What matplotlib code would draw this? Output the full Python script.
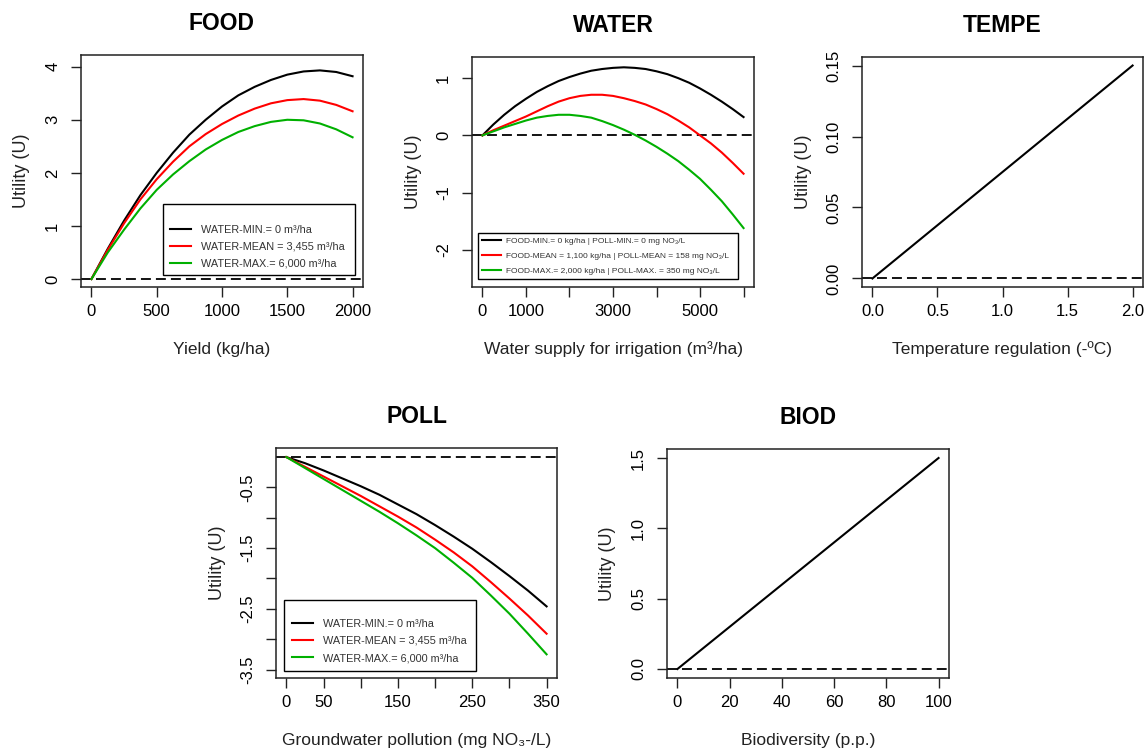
import matplotlib
matplotlib.use("Agg")
import matplotlib.pyplot as plt

plt.rcParams['font.family'] = ['Liberation Sans', 'DejaVu Sans']

# ---- FOOD: utility vs yield, three water levels ----
food_x = [0, 125, 250, 375, 500, 625, 750, 875, 1000, 1125, 1250, 1375, 1500, 1625, 1750, 1875, 2000]
food_wmin = [0, 0.57, 1.10, 1.58, 2.00, 2.38, 2.72, 3.00, 3.25, 3.46, 3.62, 3.75, 3.85, 3.91, 3.93, 3.90, 3.82]
food_wmean = [0, 0.55, 1.05, 1.50, 1.88, 2.21, 2.50, 2.73, 2.92, 3.08, 3.21, 3.31, 3.37, 3.39, 3.36, 3.28, 3.16]
food_wmax = [0, 0.50, 0.93, 1.33, 1.68, 1.97, 2.22, 2.44, 2.62, 2.77, 2.88, 2.96, 3.00, 2.99, 2.93, 2.82, 2.67]

# ---- WATER: utility vs irrigation, three food/pollution levels ----
water_x = [0, 250, 500, 750, 1000, 1250, 1500, 1750, 2000, 2250, 2500, 2750, 3000,
           3250, 3500, 3750, 4000, 4250, 4500, 4750, 5000, 5250, 5500, 5750, 6000]
water_min = [0, 0.19, 0.36, 0.51, 0.64, 0.76, 0.86, 0.95, 1.02, 1.08, 1.13, 1.16, 1.18,
             1.19, 1.18, 1.16, 1.12, 1.07, 1.00, 0.92, 0.82, 0.71, 0.59, 0.46, 0.32]
water_mean = [0, 0.09, 0.17, 0.25, 0.33, 0.42, 0.51, 0.59, 0.65, 0.69, 0.71, 0.71, 0.69,
              0.65, 0.60, 0.54, 0.46, 0.37, 0.26, 0.14, 0.00, -0.14, -0.30, -0.48, -0.67]
water_max = [0, 0.07, 0.14, 0.20, 0.26, 0.31, 0.34, 0.36, 0.36, 0.34, 0.31, 0.25, 0.18,
             0.10, 0.01, -0.09, -0.20, -0.32, -0.45, -0.60, -0.76, -0.95, -1.15, -1.38, -1.62]

# ---- TEMPE ----
tempe_x = [0, 0.5, 1.0, 1.5, 2.0]
tempe_u = [0, 0.0375, 0.075, 0.1125, 0.15]

# ---- POLL: utility vs nitrate, three water levels ----
poll_x = [0, 25, 50, 75, 100, 125, 150, 175, 200, 225, 250, 275, 300, 325, 350]
poll_wmin = [0, -0.10, -0.22, -0.35, -0.48, -0.62, -0.78, -0.94, -1.12, -1.31, -1.51, -1.73, -1.96, -2.20, -2.46]
poll_wmean = [0, -0.16, -0.32, -0.48, -0.64, -0.81, -0.98, -1.16, -1.36, -1.57, -1.80, -2.06, -2.33, -2.61, -2.91]
poll_wmax = [0, -0.18, -0.36, -0.54, -0.72, -0.90, -1.09, -1.29, -1.50, -1.74, -1.99, -2.28, -2.58, -2.91, -3.25]

# ---- BIOD ----
biod_x = [0, 20, 40, 60, 80, 100]
biod_u = [0, 0.3, 0.6, 0.9, 1.2, 1.5]

water_labels = ['WATER-MIN.= 0 m\u00b3/ha', 'WATER-MEAN = 3,455 m\u00b3/ha', 'WATER-MAX.= 6,000 m\u00b3/ha']
food_poll_labels = ['FOOD-MIN.= 0 kg/ha | POLL-MIN.= 0 mg NO\u2083/L',
                    'FOOD-MEAN = 1,100 kg/ha | POLL-MEAN = 158 mg NO\u2083/L',
                    'FOOD-MAX.= 2,000 kg/ha | POLL-MAX. = 350 mg NO\u2083/L']
colors = ['black', '#ff0000', '#00b000']

W, H = 1145, 750
fig = plt.figure(figsize=(W / 100, H / 100), dpi=100)


def px_axes(l, t, r, b):
    return fig.add_axes([l / W, 1 - b / H, (r - l) / W, (b - t) / H])


def style(ax, title, xlabel, xlim, ylim, xticks, xlabels, yticks, ylabels):
    ax.set_xlim(xlim)
    ax.set_ylim(ylim)
    ax.set_xticks(xticks, xlabels, fontsize=12)
    ax.set_yticks(yticks, ylabels, fontsize=12, rotation=90, va='center')
    ax.tick_params(axis='both', direction='out', length=7, width=1.0, color='#222222')
    ax.tick_params(axis='x', pad=5)
    ax.tick_params(axis='y', pad=8)
    for sp in ax.spines.values():
        sp.set_linewidth(1.1)
        sp.set_color('#222222')
    ax.axhline(0, color='black', lw=1.3, dashes=(5.5, 2.8), zorder=1)

    bb = ax.get_position()
    w_px, h_px = bb.width * W, bb.height * H
    ax.text(0.5, 1 + 32 / h_px, title, transform=ax.transAxes, ha='center', va='center',
            fontsize=16.5, fontweight='bold')
    ax.set_xlabel(xlabel, fontsize=12.5, color='#222222')
    ax.xaxis.set_label_coords(0.5, -62 / h_px)
    ax.xaxis.label.set_va('center')
    ax.set_ylabel('Utility (U)', fontsize=13, color='#222222')
    ax.yaxis.set_label_coords(-59 / w_px, 0.5)
    ax.yaxis.label.set_va('center')


def add_legend(ax, labels, l, t, r, fs, hl, tp, spacing, pad, top_fs=None):
    extra = {}
    if top_fs:
        extra = dict(title=' ', title_fontproperties={'size': top_fs})
    leg = ax.legend(labels, loc='upper left', bbox_to_anchor=(l / W, 1 - t / H, (r - l) / W, 0),
                    bbox_transform=fig.transFigure, mode='expand', borderaxespad=0,
                    fontsize=fs, handlelength=hl, handletextpad=tp, labelspacing=spacing,
                    borderpad=pad, frameon=True, fancybox=False, framealpha=1,
                    edgecolor='black', **extra)
    leg.get_frame().set_linewidth(1.0)
    for txt in leg.get_texts():
        txt.set_color('#333333')
    return leg


# FOOD
ax = px_axes(81, 55, 363, 287)
for y, c in zip([food_wmin, food_wmean, food_wmax], colors):
    ax.plot(food_x, y, color=c, lw=1.5)
style(ax, 'FOOD', 'Yield (kg/ha)', (-80, 2080), (-0.15, 4.22),
      [0, 500, 1000, 1500, 2000], ['0', '500', '1000', '1500', '2000'],
      [0, 1, 2, 3, 4], ['0', '1', '2', '3', '4'])
add_legend(ax, water_labels, 163, 204, 355, 7.8, 2.0, 0.9, 0.66, 0.6, top_fs=5.3)

# WATER
ax = px_axes(472, 57, 754, 287)
for y, c in zip([water_min, water_mean, water_max], colors):
    ax.plot(water_x, y, color=c, lw=1.5)
style(ax, 'WATER', 'Water supply for irrigation (m\u00b3/ha)', (-240, 6240), (-2.65, 1.37),
      [0, 1000, 2000, 3000, 4000, 5000, 6000], ['0', '1000', '', '3000', '', '5000', ''],
      [-2, -1, 0, 1], ['-2', '-1', '0', '1'])
add_legend(ax, food_poll_labels, 478, 233, 738, 6.0, 2.2, 0.6, 0.85, 0.5)

# TEMPE
ax = px_axes(862, 57, 1143, 287)
ax.plot(tempe_x, tempe_u, color='black', lw=1.5)
style(ax, 'TEMPE', 'Temperature regulation (-\u00baC)', (-0.08, 2.08), (-0.006, 0.156),
      [0, 0.5, 1.0, 1.5, 2.0], ['0.0', '0.5', '1.0', '1.5', '2.0'],
      [0, 0.05, 0.10, 0.15], ['0.00', '0.05', '0.10', '0.15'])

# POLL
ax = px_axes(276, 448, 557, 678)
for y, c in zip([poll_wmin, poll_wmean, poll_wmax], colors):
    ax.plot(poll_x, y, color=c, lw=1.5)
style(ax, 'POLL', 'Groundwater pollution (mg NO\u2083-/L)', (-14, 364), (-3.64, 0.15),
      [0, 50, 100, 150, 200, 250, 300, 350], ['0', '50', '', '150', '', '250', '', '350'],
      [-0.5, -1.0, -1.5, -2.0, -2.5, -3.0, -3.5], ['-0.5', '', '-1.5', '', '-2.5', '', '-3.5'])
add_legend(ax, water_labels, 284, 600, 476, 7.8, 2.0, 0.9, 0.66, 0.7, top_fs=3)

# BIOD
ax = px_axes(667, 449, 949, 678)
ax.plot(biod_x, biod_u, color='black', lw=1.5)
style(ax, 'BIOD', 'Biodiversity (p.p.)', (-4, 104), (-0.064, 1.564),
      [0, 20, 40, 60, 80, 100], ['0', '20', '40', '60', '80', '100'],
      [0, 0.5, 1.0, 1.5], ['0.0', '0.5', '1.0', '1.5'])

fig.savefig('out.png', dpi=100)
